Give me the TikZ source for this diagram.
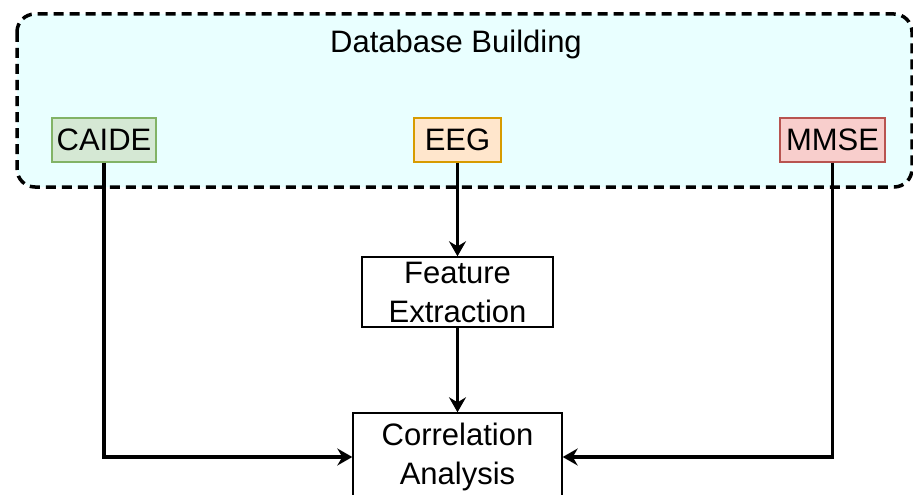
\documentclass[tikz,border=0pt]{standalone}
\usepackage{fontspec}
\setmainfont{Liberation Sans}
\usetikzlibrary{arrows.meta}
\definecolor{bgc}{HTML}{E9FFFF}
\definecolor{gfill}{HTML}{D5E8D4}
\definecolor{gline}{HTML}{82B366}
\definecolor{ofill}{HTML}{FFE6CC}
\definecolor{oline}{HTML}{D79B00}
\definecolor{rfill}{HTML}{F8CECC}
\definecolor{rline}{HTML}{B85450}
\begin{document}
\begin{tikzpicture}[x=1pt,y=-1pt,
  font=\fontsize{31}{39}\selectfont,
  box/.style={draw, line width=1.4pt, inner sep=0pt, align=center},
  conn/.style={line width=3.5pt, -{Stealth[length=15pt,width=17pt,inset=5pt]}}]
\useasboundingbox (0,0) rectangle (913,495);
\draw[fill=bgc, dash pattern=on 10pt off 6pt, line width=3.5pt, rounded corners=18pt] (17,14) rectangle (912,187);
\node (title) at (456,44) {Database Building};
\node[box, draw=gline, fill=gfill, minimum width=104pt, minimum height=44pt] (caide) at (104,140) {CAIDE};
\node[box, draw=oline, fill=ofill, minimum width=87pt, minimum height=44pt] (eeg) at (457.5,140) {EEG};
\node[box, draw=rline, fill=rfill, minimum width=105pt, minimum height=44pt] (mmse) at (832.5,140) {MMSE};
\node[box, fill=white, minimum width=191pt, minimum height=70pt] (fe) at (457.5,292) {Feature\\Extraction};
\node[box, fill=white, minimum width=209pt, minimum height=88pt] (corr) at (457.5,457) {Correlation\\Analysis};
\draw[conn] (eeg) -- (fe);
\draw[conn] (fe) -- (corr);
\draw[conn] (caide.south) |- (corr.west);
\draw[conn] (mmse.south) |- (corr.east);
\end{tikzpicture}
\end{document}
